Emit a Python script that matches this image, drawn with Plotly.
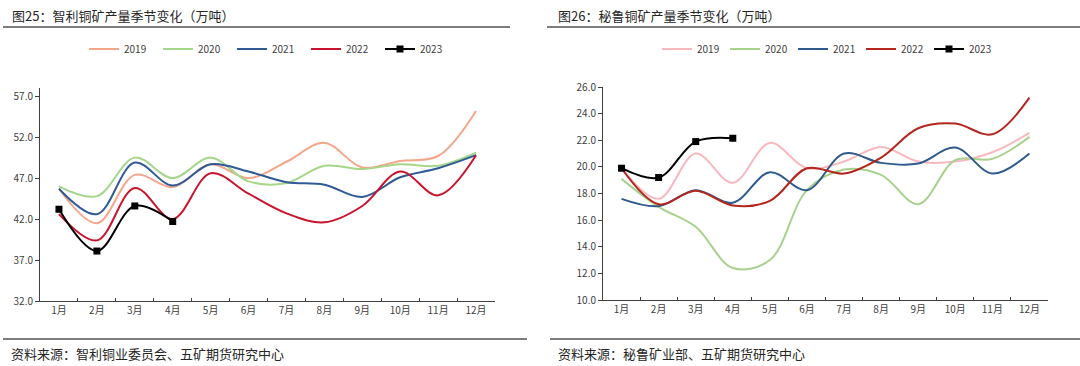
import plotly.graph_objects as go

months = ["1月", "2月", "3月", "4月", "5月", "6月", "7月", "8月", "9月", "10月", "11月", "12月"]
years = ["2019", "2020", "2021", "2022", "2023"]

# 智利铜矿产量（万吨）
chile_2019 = [45.7, 41.5, 47.4, 45.9, 48.7, 47.0, 49.0, 51.3, 48.3, 49.1, 49.7, 55.2]
chile_2020 = [46.0, 44.8, 49.5, 47.0, 49.5, 46.6, 46.4, 48.5, 48.1, 48.7, 48.5, 50.1]
chile_2021 = [45.7, 42.6, 48.9, 46.1, 48.7, 47.8, 46.5, 46.2, 44.7, 47.1, 48.2, 49.8]
chile_2022 = [42.6, 39.4, 45.8, 42.0, 47.6, 45.1, 42.7, 41.6, 43.6, 47.8, 44.9, 49.8]
chile_2023 = [43.2, 38.1, 43.6, 41.7]

# 秘鲁铜矿产量（万吨）
peru_2019 = [19.9, 17.6, 21.0, 18.8, 21.8, 19.9, 20.4, 21.5, 20.4, 20.4, 21.1, 22.55]
peru_2020 = [19.1, 17.0, 15.5, 12.4, 13.0, 18.25, 19.8, 19.4, 17.2, 20.5, 20.6, 22.25]
peru_2021 = [17.6, 17.05, 18.25, 17.3, 19.6, 18.25, 21.0, 20.3, 20.25, 21.45, 19.5, 21.0]
peru_2022 = [19.9, 17.2, 18.2, 17.1, 17.45, 19.9, 19.5, 20.7, 22.9, 23.25, 22.45, 25.2]
peru_2023 = [19.9, 19.2, 21.9, 22.15]

chile_colors = ["#F2A68A", "#A6D68A", "#2F5A96", "#C8142E", "#000000"]
peru_colors = ["#F7B8BE", "#A9D18E", "#2E5A8C", "#B3261E", "#000000"]

W, H = 1080, 366
FONT = "Noto Sans CJK SC"

def px_x(p):
    return p / W

def px_y(p):
    return 1 - p / H

fig = go.Figure()

chile = [chile_2019, chile_2020, chile_2021, chile_2022, chile_2023]
peru = [peru_2019, peru_2020, peru_2021, peru_2022, peru_2023]

for i, (yr, vals) in enumerate(zip(years, chile)):
    is_cur = yr == "2023"
    fig.add_trace(go.Scatter(
        x=months[:len(vals)], y=vals, name=yr,
        mode="lines+markers" if is_cur else "lines",
        line=dict(color=chile_colors[i], width=2, shape="spline", smoothing=1.0),
        marker=dict(symbol="square", size=7, color="#000000"),
        xaxis="x", yaxis="y", legend="legend",
    ))

for i, (yr, vals) in enumerate(zip(years, peru)):
    is_cur = yr == "2023"
    fig.add_trace(go.Scatter(
        x=months[:len(vals)], y=vals, name=yr,
        mode="lines+markers" if is_cur else "lines",
        line=dict(color=peru_colors[i], width=2, shape="spline", smoothing=1.0),
        marker=dict(symbol="square", size=7, color="#000000"),
        xaxis="x2", yaxis="y2", legend="legend2",
    ))

axis_common = dict(
    showgrid=False, zeroline=False, showline=True, linecolor="#404040", linewidth=1,
    tickfont=dict(family=FONT, size=10, color="#404040"),
    tickcolor="#404040",
)
xaxis_common = dict(type="category", categoryorder="array", categoryarray=months,
                    range=[-0.5, 11.5], ticks="inside", ticklen=3, tickson="boundaries",
                    **axis_common)

fig.update_layout(
    width=W, height=H,
    margin=dict(l=0, r=0, t=0, b=0, autoexpand=False),
    paper_bgcolor="white", plot_bgcolor="white",
    font=dict(family=FONT, color="#404040"),
    xaxis=dict(domain=[px_x(40), px_x(495)], anchor="y", **xaxis_common),
    yaxis=dict(domain=[px_y(301), px_y(88)], anchor="x", range=[32, 58],
               tick0=32, dtick=5, tickformat=".1f", ticks="outside", ticklen=4,
               **axis_common),
    xaxis2=dict(domain=[px_x(603), px_x(1048)], anchor="y2", **xaxis_common),
    yaxis2=dict(domain=[px_y(300), px_y(87)], anchor="x2", range=[10, 26],
                tick0=10, dtick=2, tickformat=".1f", ticks="outside", ticklen=4,
                **axis_common),
    legend=dict(orientation="h", x=px_x(84), y=px_y(49), xanchor="left", yanchor="middle",
                entrywidth=29, entrywidthmode="pixels", itemwidth=30,
                font=dict(family=FONT, size=10, color="#404040"), bgcolor="rgba(0,0,0,0)"),
    legend2=dict(orientation="h", x=px_x(657), y=px_y(49), xanchor="left", yanchor="middle",
                 entrywidth=23, entrywidthmode="pixels", itemwidth=30,
                 font=dict(family=FONT, size=10, color="#404040"), bgcolor="rgba(0,0,0,0)"),
    showlegend=True,
)

annotations = [
    dict(text="图25：智利铜矿产量季节变化（万吨）", x=px_x(10), y=px_y(15)),
    dict(text="图26：秘鲁铜矿产量季节变化（万吨）", x=px_x(556), y=px_y(15)),
    dict(text="资料来源：智利铜业委员会、五矿期货研究中心", x=px_x(9), y=px_y(353)),
    dict(text="资料来源：秘鲁矿业部、五矿期货研究中心", x=px_x(556), y=px_y(353)),
]
for a in annotations:
    fig.add_annotation(xref="paper", yref="paper", xanchor="left", yanchor="middle",
                       showarrow=False, font=dict(family=FONT, size=13, color="#262626"), **a)

for x0, x1, yy in ((3, 510, 27), (547, 1080, 27), (3, 527, 339), (550, 1080, 339)):
    fig.add_shape(type="line", xref="paper", yref="paper",
                  x0=px_x(x0), x1=px_x(x1), y0=px_y(yy), y1=px_y(yy),
                  line=dict(color="#505050", width=1.5))

fig.write_html("out.html", config={"displayModeBar": False},
               post_script="document.body.style.margin='0';document.body.style.overflow='hidden';")
